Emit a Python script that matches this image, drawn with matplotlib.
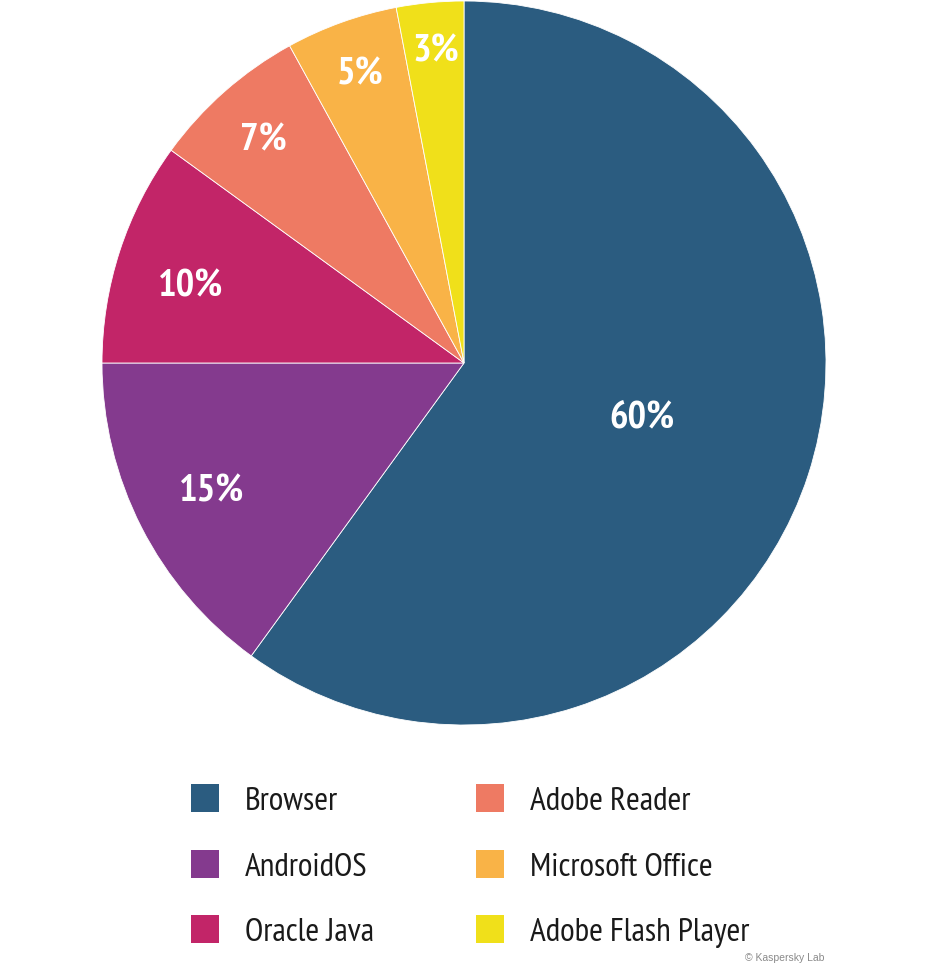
import numpy as np
import matplotlib.pyplot as plt
import matplotlib.transforms as mtransforms
from matplotlib.patches import Rectangle

# data
labels = ["Browser", "AndroidOS", "Oracle Java", "Adobe Reader", "Microsoft Office", "Adobe Flash Player"]
shares = [60, 15, 10, 7, 5, 3]
colors = ["#2B5C80", "#843A8E", "#C22568", "#EE7A63", "#F9B347", "#F0E01A"]

# label placement (fraction of radius, angle tweak in degrees)
label_r = [0.511, 0.779, 0.788, 0.835, 0.856, 0.874]
label_dang = [2.0, -0.7, 1.7, 0.2, -0.2, -0.3]

font = ["PT Sans Narrow", "Roboto Condensed", "DejaVu Sans"]

W, H = 930, 967
fig = plt.figure(figsize=(W / 100, H / 100), dpi=100)

# pie axes: centre (464, 363) px, radius 362 px
cx, cy, R = 464, 363, 362
ax = fig.add_axes([(cx - R) / W, (H - cy - R) / H, 2 * R / W, 2 * R / H])
wedges, _ = ax.pie(shares, colors=colors, startangle=90, counterclock=False,
                   radius=1.0, wedgeprops=dict(edgecolor="white", linewidth=0.6))
ax.set_xlim(-1, 1)
ax.set_ylim(-1, 1)
ax.set_aspect("equal")
ax.axis("off")

# nudge labels a few pixels down
shift = mtransforms.ScaledTranslation(0, -4 / 100, fig.dpi_scale_trans)
for w, s, r, da in zip(wedges, shares, label_r, label_dang):
    ang = np.deg2rad((w.theta1 + w.theta2) / 2 + da)
    ax.text(r * np.cos(ang), r * np.sin(ang), f"{s}%", ha="center", va="center",
            color="white", fontsize=28, fontweight="bold", family=font,
            fontstretch="condensed", transform=ax.transData + shift)

# legend drawn in figure pixel coords
lax = fig.add_axes([0, 0, 1, 1])
lax.set_xlim(0, W)
lax.set_ylim(H, 0)
lax.axis("off")
col_x = [191, 476]
row_y = [798, 863.5, 929]
sq = 28
for i, (lab, c) in enumerate(zip(labels, colors)):
    col, row = divmod(i, 3)
    x0, y0 = col_x[col], row_y[row]
    lax.add_patch(Rectangle((x0, y0 - sq / 2), sq, sq, facecolor=c, edgecolor="none"))
    lax.text(x0 + 54, y0 + 4, lab, ha="left", va="center", fontsize=24,
             color="#1a1a1a", family=font, fontstretch="condensed")

lax.text(824, 958, "© Kaspersky Lab", ha="right", va="center", fontsize=7.5,
         color="#8a8a8a", family=["Liberation Sans", "DejaVu Sans"])

fig.savefig("out.png", dpi=100)
